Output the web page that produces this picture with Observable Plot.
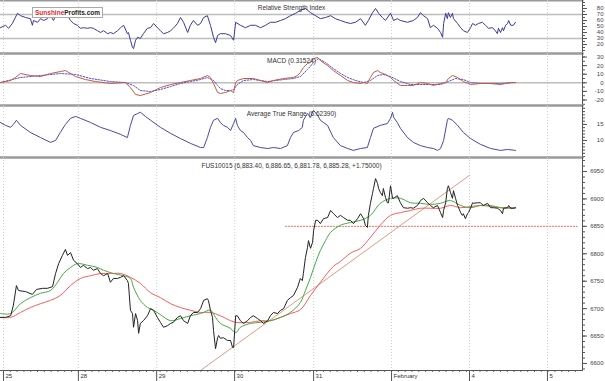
<!DOCTYPE html>
<html><head><meta charset="utf-8">
<script src="https://cdn.jsdelivr.net/npm/d3@7"></script>
<script src="https://cdn.jsdelivr.net/npm/@observablehq/plot@0.6"></script>
<style>
body{margin:0;background:#fff;}
#chart{position:relative;width:605px;height:381px;overflow:hidden;background:#fff;}
#chart svg{display:block;}
.logo{position:absolute;left:32px;top:7px;height:9px;padding:0 2px;border:1px solid #aaa;background:#fff;font:bold 6.5px/9px "Liberation Sans",Arial,sans-serif;white-space:nowrap;}
.logo .a{color:#e02a2a}.logo .b{color:#222}
</style></head><body>
<div id="chart"></div>
<script>
// ---------- time axis (trading hours since Jan 25) ----------
const dayTicks = [0, 22, 45, 67.9, 91.1, 114, 136.9, 159.8];
const dayLabels = ["25", "28", "29", "30", "31", "February", "4", "5"];
const X_DOMAIN = [-0.88, 170.1];

// ---------- price (close) ----------
const priceHour = [-0.9,0.6,2.1,2.9,3.8,4.4,6.5,8.5,9.7,11.5,
12.9,14.4,15.3,16.2,17.3,18.2,18.8,19.7,20.6,21.7,
22.6,23.5,24.7,25.6,26.4,27.6,28.5,29.4,30.6,31.4,
32.3,33.5,34.4,35.3,36.4,36.7,37.3,37.9,38.2,38.8,
39.4,39.7,40.2,41.1,42.3,43.2,44.1,45.2,46.1,47.0,
48.2,49.1,49.9,51.1,52.0,52.9,54.1,54.9,55.8,57.0,
57.9,58.8,59.9,60.2,60.8,61.4,61.7,62.3,62.9,63.2,
63.7,64.6,65.8,66.7,67.3,67.6,68.2,68.7,69.6,70.5,
71.7,72.6,73.4,74.6,75.5,76.4,77.6,78.4,79.3,80.5,
81.4,82.3,83.4,84.3,85.2,86.4,87.2,87.8,88.1,88.7,
89.3,89.6,90.2,90.8,91.1,91.7,92.3,93.1,94.0,95.2,
96.1,97.0,98.1,99.0,99.9,101.1,101.9,102.8,104.0,104.9,
105.8,106.3,106.9,107.2,107.8,108.4,108.7,109.3,109.9,110.2,
110.7,111.3,111.6,112.2,112.8,113.1,113.7,114.3,114.6,115.7,
116.6,117.5,118.7,119.6,120.4,121.6,122.5,123.4,124.6,125.4,
126.3,127.5,128.4,129.0,129.3,129.9,130.4,130.7,131.3,131.9,
132.2,132.8,133.4,133.7,134.3,134.8,135.1,135.7,136.3,136.6,
137.2,137.8,138.1,139.2,140.1,141.0,142.2,143.1,144.0,145.1,
146.0,146.6,146.9,148.1,148.4,149.0,149.8,150.4];
const priceClose = [6684,6684,6687,6706,6742,6733,6731,6726,6735,6737,
6737,6740,6764,6782,6797,6808,6797,6802,6788,6782,
6775,6779,6773,6775,6770,6773,6764,6760,6764,6748,
6755,6755,6757,6760,6751,6746,6697,6691,6666,6691,
6678,6655,6673,6678,6687,6700,6697,6684,6675,6666,
6669,6673,6675,6684,6687,6678,6673,6687,6693,6693,
6700,6715,6718,6715,6697,6684,6660,6627,6647,6651,
6646,6647,6642,6642,6629,6629,6687,6687,6678,6673,
6678,6684,6687,6682,6678,6673,6678,6687,6693,6691,
6697,6700,6715,6720,6724,6739,6755,6751,6764,6793,
6811,6824,6810,6821,6842,6861,6861,6855,6864,6866,
6879,6873,6866,6870,6866,6861,6861,6855,6864,6873,
6864,6852,6848,6870,6892,6910,6919,6937,6928,6919,
6912,6906,6919,6903,6893,6893,6924,6901,6901,6906,
6893,6884,6883,6884,6883,6888,6897,6901,6893,6888,
6884,6888,6875,6866,6879,6893,6919,6924,6912,6901,
6915,6901,6888,6884,6875,6870,6873,6864,6873,6875,
6883,6893,6892,6893,6893,6888,6892,6884,6884,6883,
6879,6873,6883,6884,6888,6883,6883,6884];

// ---------- moving averages ----------
const greenHour = [-0.9,2.1,5.0,7.9,10.9,13.8,15.9,17.6,19.7,21.7,
24.7,27.6,29.4,32.3,35.3,37.3,38.2,40.2,42.3,44.1,
46.1,49.1,52.0,54.9,57.9,60.8,62.3,63.7,66.7,68.2,
69.6,72.6,75.5,78.4,81.4,84.3,87.2,88.7,90.2,91.7,
93.1,94.6,96.1,99.0,101.9,104.9,107.8,110.7,113.7,116.6,
119.6,122.5,125.4,128.4,131.3,134.3,137.2,140.1,143.1,146.0,
149.0,150.4];
const greenVal = [6691,6691,6709,6720,6728,6733,6748,6764,6775,6782,
6779,6775,6770,6764,6760,6755,6739,6715,6702,6697,
6689,6678,6682,6687,6691,6697,6684,6673,6664,6656,
6666,6673,6675,6678,6684,6693,6711,6733,6757,6784,
6806,6824,6839,6852,6857,6861,6870,6892,6901,6901,
6893,6892,6890,6892,6897,6888,6884,6888,6888,6884,
6883,6883];
const redHour = [-0.9,2.1,5.0,7.9,10.9,13.8,16.7,19.7,22.6,25.6,
28.5,31.4,34.4,37.3,40.2,43.2,46.1,49.1,52.0,54.9,
57.9,60.8,63.7,66.7,68.2,72.6,75.5,78.4,81.4,84.3,
87.2,90.2,93.1,96.9,99.0,101.9,104.9,107.8,110.7,113.7,
116.6,119.6,122.5,125.4,128.4,131.3,134.3,140.1,146.0,150.4];
const redVal = [6684,6684,6693,6702,6709,6715,6724,6742,6755,6760,
6764,6764,6764,6757,6746,6729,6720,6709,6702,6697,
6693,6693,6687,6678,6675,6675,6678,6678,6684,6691,
6698,6724,6748,6777,6786,6801,6810,6830,6852,6870,
6875,6879,6883,6883,6883,6888,6884,6888,6884,6884];
const trendHour = [57.9, 136.9];
const trendVal = [6587.2, 6943];
const levelHour = [82.8, 168.6];
const levelVal = 6850;

// ---------- indicators ----------
const rsi = [[-0.9,48],[0.6,52],[1.5,47],[2.6,55],[4.1,72],[5.0,68],[6.5,65],[7.9,63],[8.5,52],[8.8,60],[10.0,57],[10.9,63],[11.8,60],[12.9,63],[13.8,68],[14.7,60],[15.3,68],[16.2,65],[17.3,72],[18.8,68],[19.7,60],[20.6,55],[21.7,52],[22.6,47],[23.5,48],[24.7,47],[25.6,48],[26.4,47],[27.6,43],[28.5,40],[29.4,43],[30.6,38],[31.4,40],[32.3,38],[33.5,43],[34.4,48],[35.3,52],[36.4,38],[36.7,40],[37.3,27],[37.9,15],[38.2,13],[38.8,27],[39.4,32],[40.2,30],[41.1,38],[42.3,47],[43.2,48],[44.1,55],[45.2,48],[46.1,43],[47.0,38],[48.2,40],[49.1,43],[49.9,47],[51.1,55],[52.0,65],[52.9,57],[54.1,40],[54.9,52],[55.8,60],[57.0,52],[57.9,55],
[58.8,65],[59.9,68],[60.8,52],[61.7,32],[62.3,23],[62.9,35],[63.7,38],[65.2,38],[66.7,35],[67.6,27],[68.2,57],[69.6,52],[71.1,48],[72.6,52],[74.0,52],[75.5,48],[77.0,52],[78.4,57],[79.9,57],[81.4,60],[82.8,63],[84.3,68],[85.8,72],[87.2,77],[88.7,80],[90.2,73],[91.7,68],[93.1,63],[94.6,65],[96.1,68],[97.5,63],[99.0,60],[100.5,57],[101.9,55],[103.4,57],[104.9,63],[106.3,52],[107.2,60],[108.4,73],[109.3,80],[110.2,72],[111.3,65],[112.2,60],[113.7,72],[114.6,60],[115.7,63],
[116.6,60],[118.7,57],[120.4,60],[121.6,65],[122.5,73],[123.4,68],[124.6,63],[125.4,48],[126.3,52],[127.5,47],[128.4,40],[129.0,32],[129.3,55],[129.9,72],[130.4,63],[130.7,73],[131.3,65],[131.9,72],[132.2,63],[133.4,55],[134.3,48],[135.1,43],[136.3,40],[137.2,48],[137.8,55],[138.7,52],[139.5,55],[140.7,57],[141.6,52],[142.5,47],[143.7,48],[144.5,43],[145.1,38],[145.4,47],[146.0,40],[146.6,48],[146.9,43],[147.5,52],[148.1,55],[148.4,60],[149.0,52],[149.8,52],[150.4,57]];
const macd = [[-0.9,0.3],[2.1,2.7],[3.5,6.2],[5.0,10.8],[7.9,8.5],[10.9,7.3],[13.8,10.8],[16.7,13.1],[18.2,14.3],[21.2,7.3],[24.1,3.8],[27.0,1.5],[31.4,-0.8],[35.8,0.3],[37.3,-5.5],[38.8,-13.6],[40.2,-14.8],[43.2,-11.3],[46.1,-5.5],[49.1,-2],[52.0,0.3],[54.9,2.7],[57.9,5],[59.9,8.5],[60.8,6.2],[61.7,-0.8],[62.9,-11.3],[63.7,-12.4],[65.2,-11.3],[66.7,-9],[67.6,-11.3],[68.2,0.3],[68.7,2.7],[70.5,5],[73.4,5],[75.5,2.7],[77.6,0.3],[79.3,2.7],[82.3,5],[85.2,6.2],[86.4,8.5],[87.2,12],[88.1,17.8],[89.3,22.4],[90.2,23.6],[91.1,28.3],[92.3,29.4],[93.1,25.9],[95.2,20.1],[96.9,14.3],[99.0,8.5],[101.1,2.7],[102.8,0.3],[104.9,-0.8],[105.8,0.3],[106.9,-0.8],[107.8,6.2],[108.7,12],[109.9,14.3],[110.7,12],[111.6,10.8],[112.8,8.5],[113.7,6.2],[114.6,2.7],[116.6,-3.1],[118.7,-3.1],[120.4,-3.1],[122.5,0.3],[124.6,-0.8],[126.3,-3.1],[128.4,-0.8],[129.9,0.3],[130.7,5],[131.9,8.5],[133.4,6.2],[135.1,1.5],[137.2,-2],[140.1,-0.8],[143.1,-0.8],[146.0,-2],[149.0,0.3],[150.4,0.3]];
const signal = [[-0.9,0.3],[5.0,6.2],[10.9,8.5],[16.7,10.8],[21.2,9.7],[25.6,5],[31.4,1.5],[35.8,0.3],[38.2,-3.1],[40.2,-9],[43.2,-10.1],[46.1,-7.8],[49.1,-4.3],[52.0,-0.8],[54.9,1.5],[57.9,3.8],[59.9,6.2],[61.7,2.7],[62.9,-3.1],[63.7,-6.6],[65.2,-9],[66.7,-9],[67.6,-7.8],[68.7,-2],[70.5,2.7],[73.4,3.8],[77.6,1.5],[82.3,3.8],[85.2,5],[87.2,7.3],[89.3,15.5],[91.1,23.6],[92.5,28.3],[94.6,23.6],[96.9,16.6],[99.0,10.8],[101.1,6.2],[103.4,2.7],[105.8,0.3],[107.8,2.7],[109.9,8.5],[111.6,9.7],[113.7,7.3],[116.6,1.5],[119.6,-2],[122.5,-2],[125.4,-2],[128.4,-2],[130.7,1.5],[132.8,5],[135.1,3.8],[137.2,0.3],[140.1,-0.8],[143.1,-0.8],[146.0,-0.8],[150.4,0.3]];
const atr = [[-0.9,15.6],[0.6,14.7],[2.1,14.1],[2.9,15],[3.8,16.3],[5.0,14.7],[7.9,12.5],[10.9,10.9],[13.8,9.4],[15.3,10],[16.7,12.5],[18.2,15],[19.7,16.9],[21.2,17.5],[22.6,16.9],[25.6,15.6],[28.5,14.1],[31.4,13.1],[34.4,11.9],[36.4,10.9],[37.3,14.7],[38.2,17.8],[39.4,18.4],[40.2,18.8],[41.7,17.5],[43.2,16.3],[46.1,14.1],[49.1,12.2],[52.0,10.6],[54.9,9.1],[57.9,7.8],[58.8,7.8],[59.9,10.9],[60.8,14.1],[61.7,16.3],[62.9,16.9],[63.7,15.6],[64.6,14.7],[65.8,14.1],[66.7,13.1],[67.6,15.3],[68.2,16.9],[68.7,14.7],[69.6,13.1],[70.5,12.5],[71.7,10.9],[72.6,10],[73.4,8.4],[75.5,7.8],[77.6,7.5],[79.3,7.8],[81.4,7.5],[83.4,8.4],[84.3,10.9],[85.2,12.5],[86.7,13.1],[87.8,14.1],[88.1,16.3],[89.3,18.4],[90.2,17.2],[90.8,18.8],[91.1,19.4],[92.3,17.8],[93.1,16.3],[94.0,15.6],[95.2,14.7],[96.9,10.9],[99.0,8.4],[101.1,7.5],[102.8,6.9],[104.9,7.5],[106.9,7.8],[107.8,10.9],[108.7,13.8],[110.7,14.7],[112.8,15.3],[113.7,16.9],[114.3,18.8],[114.6,17.2],[115.7,15.6],[116.6,13.8],[118.7,10.9],[120.4,9.4],[122.5,8.4],[124.6,7.8],[126.3,7.5],[127.5,6.9],[128.4,7.5],[129.3,10],[130.4,16.3],[130.7,16.9],[131.9,16.3],[133.4,14.7],[135.1,12.5],[137.2,10.6],[140.1,8.8],[143.1,7.5],[146.0,6.9],[148.1,7.2],[150.4,6.9]];

// ---------- axis labels / titles ----------
const rsiLabels = [20, 30, 40, 50, 60, 70, 80];
const macdLabels = [-20, -10, 0, 10, 20, 30];
const atrLabels = [10, 15];
const priceLabels = [6600, 6650, 6700, 6750, 6800, 6850, 6900, 6950];
const titles = ["Relative Strength Index", "MACD (0.31524)", "Average True Range (6.62390)",
  "FUS10015 (6,883.40, 6,886.65, 6,881.78, 6,885.28, +1.75000)"];

// ---------- helpers ----------
const zip = (xs, ys) => xs.map((h, i) => ({h, v: ys[i]}));
const pairs = a => a.map(([h, v]) => ({h, v}));
const FONT = "'Liberation Sans', Arial, sans-serif";

function panel({height, yDomain, marginBottom = 0, marks, labels, minor, title, titleDy, bottomAxis = false}) {
  const extra = [];
  if (bottomAxis) {
    extra.push(
      Plot.axisX({anchor: "bottom", ticks: d3.range(0, 170, 2), tickSize: 2, tickFormat: () => "", stroke: "#666"}),
      Plot.axisX({anchor: "bottom", ticks: dayTicks, tickSize: 11, tickFormat: () => "", stroke: "#555"}),
      Plot.text(dayTicks, {x: d => d, frameAnchor: "bottom", dy: 7, dx: 2, textAnchor: "start",
        text: (d, i) => dayLabels[i], fontSize: 6, fill: "#333"}),
      Plot.frame({anchor: "bottom", stroke: "#555"})
    );
  } else {
    extra.push(Plot.frame({anchor: "bottom", stroke: "#9a9a9a", strokeWidth: 2}));
  }
  return Plot.plot({
    width: 605, height, marginLeft: 0, marginRight: 23, marginTop: 0, marginBottom,
    style: {fontFamily: FONT, fontSize: "6px", color: "#333", background: "#fff", overflow: "visible"},
    x: {domain: X_DOMAIN, label: null, ...(bottomAxis ? {} : {axis: null})},
    y: {domain: yDomain, label: null},
    marks: [
      Plot.frame({anchor: "top", stroke: "#9a9a9a", strokeWidth: 2}),
      Plot.ruleX(dayTicks, {stroke: "#cfcfcf", strokeDasharray: "1,2"}),
      ...marks,
      Plot.text([title], {frameAnchor: "top", dy: titleDy, fontSize: 6.5, fill: "#333"}),
      Plot.axisY({anchor: "right", ticks: minor, tickSize: 2, tickFormat: () => "", stroke: "#555"}),
      Plot.axisY({anchor: "right", ticks: labels, tickSize: 4, tickFormat: () => "", stroke: "#555"}),
      Plot.text(labels, {frameAnchor: "right", y: d => d, text: d => String(d), dx: 21, textAnchor: "end", fontSize: 6, fill: "#444"}),
      Plot.frame({anchor: "right", stroke: "#555"}),
      ...extra
    ]
  });
}

const chart = document.getElementById("chart");

chart.append(panel({
  height: 53, yDomain: [5, 93.3], labels: rsiLabels, minor: d3.range(10, 91, 5),
  title: titles[0], titleDy: 5,
  marks: [
    Plot.ruleY([30, 70], {stroke: "#bdbdbd", strokeWidth: 1.5}),
    Plot.line(pairs(rsi), {x: "h", y: "v", stroke: "#3a3a96", strokeWidth: 1})
  ]
}));

chart.append(panel({
  height: 52, yDomain: [-26.4, 34.1], labels: macdLabels, minor: d3.range(-25, 34, 5),
  title: titles[1], titleDy: 4.5,
  marks: [
    Plot.ruleY([0], {stroke: "#bdbdbd", strokeWidth: 1.5}),
    Plot.line(pairs(signal), {x: "h", y: "v", stroke: "#4b4bd6", strokeWidth: 1, strokeDasharray: "1.5,1.5"}),
    Plot.line(pairs(macd), {x: "h", y: "v", stroke: "#c85a3c", strokeWidth: 1})
  ]
}));

chart.append(panel({
  height: 52, yDomain: [4.69, 20.9], labels: atrLabels, minor: d3.range(5, 21, 1),
  title: titles[2], titleDy: 6,
  marks: [
    Plot.line(pairs(atr), {x: "h", y: "v", stroke: "#4848a6", strokeWidth: 1})
  ]
}));

chart.append(panel({
  height: 224, marginBottom: 11, yDomain: [6587.2, 6975.5], labels: priceLabels,
  minor: d3.range(6590, 6975, 10), title: titles[3], titleDy: 6, bottomAxis: true,
  marks: [
    Plot.line(levelHour, {x: d => d, y: () => levelVal, stroke: "#e0806a", strokeWidth: 1, strokeDasharray: "1.5,1.5"}),
    Plot.line(zip(trendHour, trendVal), {x: "h", y: "v", stroke: "#dd9c82", strokeWidth: 1}),
    Plot.line(zip(redHour, redVal), {x: "h", y: "v", stroke: "#ff5a5a", strokeWidth: 1, curve: "catmull-rom"}),
    Plot.line(zip(greenHour, greenVal), {x: "h", y: "v", stroke: "#45aa45", strokeWidth: 1, curve: "catmull-rom"}),
    Plot.line(zip(priceHour, priceClose), {x: "h", y: "v", stroke: "#222", strokeWidth: 1})
  ]
}));

const logo = document.createElement("div");
logo.className = "logo";
logo.innerHTML = '<span class="a">Sunshine</span><span class="b">Profits.com</span>';
chart.append(logo);
</script>
</body></html>
